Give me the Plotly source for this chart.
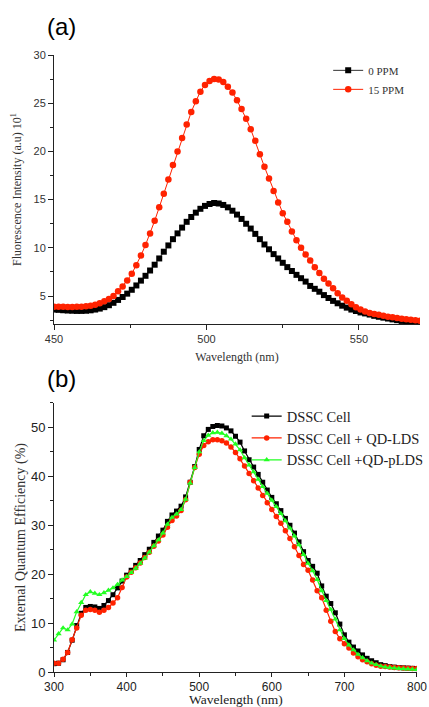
import plotly.graph_objects as go

# ---------------- Panel (a): fluorescence ----------------
wl_a = [450 + 1.5 * k for k in range(81)]
ppm0 = [3.6, 3.57, 3.53, 3.5, 3.48, 3.46, 3.46, 3.48, 3.52, 3.6, 3.7, 3.85, 4.05, 4.3, 4.6, 4.9,
        5.25, 5.65, 6.1, 6.6, 7.1, 7.65, 8.25, 8.9, 9.6, 10.25, 10.9, 11.5, 12.1, 12.7, 13.2,
        13.65, 14.05, 14.35, 14.55, 14.65, 14.6, 14.45, 14.2, 13.85, 13.45, 13.0, 12.5, 12.0,
        11.45, 10.9, 10.35, 9.85, 9.35, 8.9, 8.45, 8.0, 7.6, 7.2, 6.85, 6.5, 6.05, 5.75, 5.45,
        5.1, 4.8, 4.5, 4.25, 4.0, 3.8, 3.6, 3.45, 3.3, 3.2, 3.08, 2.95, 2.85, 2.76, 2.67, 2.58,
        2.5, 2.42, 2.35, 2.28, 2.22, 2.17]
ppm15 = [3.9, 3.9, 3.88, 3.87, 3.87, 3.88, 3.9, 3.95, 4.0, 4.1, 4.25, 4.45, 4.7, 5.0, 5.5, 6.0,
         6.6, 7.3, 8.2, 9.2, 10.3, 11.5, 12.8, 14.2, 15.6, 17.1, 18.6, 20.0, 21.4, 22.8, 24.1,
         25.2, 26.2, 26.9, 27.3, 27.5, 27.45, 27.2, 26.7, 26.1, 25.3, 24.4, 23.4, 22.3, 21.1,
         19.7, 18.4, 17.2, 15.9, 14.7, 13.6, 12.7, 11.7, 10.8, 10.0, 9.3, 8.7, 8.0, 7.4, 6.8,
         6.3, 5.8, 5.3, 4.85, 4.5, 4.15, 3.85, 3.6, 3.4, 3.25, 3.15, 3.05, 2.95, 2.85, 2.8,
         2.72, 2.65, 2.6, 2.55, 2.5, 2.45]

# ---------------- Panel (b): EQE ----------------
wl_b = [300 + 6.25 * k for k in range(81)]
dssc = [1.7, 1.8, 2.5, 4.0, 6.5, 9.5, 12.0, 13.2, 13.4, 13.3, 13.0, 13.6, 14.6, 15.8, 17.2, 18.6,
        19.8, 20.8, 21.8, 22.8, 24.0, 25.1, 26.5, 27.8, 29.0, 30.8, 32.1, 32.9, 33.9, 35.8, 38.8,
        42.0, 45.5, 48.3, 49.6, 50.2, 50.4, 50.3, 49.9, 49.3, 48.2, 47.0, 45.2, 43.4, 41.9, 40.4,
        38.8, 37.2, 35.7, 34.4, 33.0, 31.4, 30.0, 28.4, 26.6, 24.6, 22.8, 21.6, 20.2, 17.6, 15.5,
        14.0, 12.1, 9.8, 7.6, 6.1, 5.1, 4.3, 3.5, 2.8, 2.3, 1.9, 1.5, 1.3, 1.1, 1.0, 0.9, 0.85,
        0.8, 0.75, 0.7]
qd_lds = [1.8, 1.8, 2.6, 4.0, 6.6, 9.0, 11.6, 12.6, 12.8, 12.6, 12.2, 12.6, 13.2, 14.1, 15.2, 17.3,
          19.4, 20.4, 21.3, 22.3, 23.4, 24.5, 25.7, 26.8, 28.0, 29.6, 31.0, 31.9, 33.0, 35.2, 38.8,
          41.8, 44.5, 46.3, 47.1, 47.5, 47.5, 47.3, 46.8, 46.0, 44.9, 43.6, 42.1, 40.6, 39.1, 37.6,
          36.1, 34.6, 33.2, 31.8, 30.4, 28.9, 27.3, 25.6, 23.8, 22.0, 20.8, 18.8, 16.6, 15.2, 12.6,
          10.4, 8.3, 6.8, 5.8, 4.9, 3.9, 3.1, 2.5, 2.1, 1.7, 1.4, 1.2, 1.1, 1.0, 0.9, 0.85, 0.8,
          0.75, 0.7, 0.7]
qd_plds = [6.5, 7.8, 9.0, 8.6, 9.8, 12.3, 14.2, 15.8, 16.4, 16.1, 15.8, 16.2, 16.7, 17.2, 17.9, 18.8,
           19.5, 20.3, 21.2, 22.2, 23.3, 24.5, 25.8, 27.0, 28.4, 30.2, 31.6, 32.3, 33.2, 35.3, 38.6,
           41.8, 45.0, 47.3, 48.4, 48.9, 49.0, 48.8, 48.3, 47.6, 46.6, 45.4, 43.8, 42.3, 40.9, 39.4,
           37.9, 36.5, 35.1, 33.8, 32.4, 30.9, 29.4, 27.8, 26.0, 24.0, 22.2, 20.7, 18.9, 16.6, 14.6,
           12.8, 10.8, 8.6, 6.8, 5.5, 4.5, 3.6, 2.9, 2.3, 1.8, 1.5, 1.2, 1.0, 0.9, 0.8, 0.7, 0.65,
           0.6, 0.55, 0.5]

RED = "#ff2200"
GREEN = "#22ff22"
SERIF = "Liberation Serif"
SANS = "Liberation Sans"

fig = go.Figure()

fig.add_trace(go.Scatter(x=wl_a, y=ppm0, name="0 PPM", mode="lines+markers",
                         line=dict(color="#333333", width=1),
                         marker=dict(symbol="square", size=6, color="black"),
                         xaxis="x", yaxis="y", legend="legend"))
fig.add_trace(go.Scatter(x=wl_a, y=ppm15, name="15 PPM", mode="lines+markers",
                         line=dict(color=RED, width=1),
                         marker=dict(symbol="circle", size=6.5, color=RED),
                         xaxis="x", yaxis="y", legend="legend"))

fig.add_trace(go.Scatter(x=wl_b, y=dssc, name="DSSC Cell", mode="lines+markers",
                         line=dict(color="black", width=1.2),
                         marker=dict(symbol="square", size=5, color="black"),
                         xaxis="x2", yaxis="y2", legend="legend2"))
fig.add_trace(go.Scatter(x=wl_b, y=qd_lds, name="DSSC Cell + QD-LDS", mode="lines+markers",
                         line=dict(color=RED, width=1.2),
                         marker=dict(symbol="circle", size=5.5, color=RED),
                         xaxis="x2", yaxis="y2", legend="legend2"))
fig.add_trace(go.Scatter(x=wl_b, y=qd_plds, name="DSSC Cell +QD-pLDS", mode="lines+markers",
                         line=dict(color=GREEN, width=1.2),
                         marker=dict(symbol="triangle-up", size=5.5, color=GREEN),
                         xaxis="x2", yaxis="y2", legend="legend2"))

axis_common = dict(showline=True, linecolor="#222", linewidth=1, ticks="outside",
                   tickcolor="#222", showgrid=False, zeroline=False,
                   mirror=False, automargin=False)

fig.update_layout(
    width=429, height=707,
    margin=dict(l=0, r=0, t=0, b=0, autoexpand=False),
    paper_bgcolor="white", plot_bgcolor="white",
    xaxis=dict(domain=[0.1259, 0.979], range=[450, 570], anchor="y", ticklen=5,
               tickvals=[450, 500, 550], tickfont=dict(family=SANS, size=11, color="#333"),
               minor=dict(tickvals=[475, 525], ticks="outside", ticklen=3, tickcolor="#222"),
               title=dict(text="Wavelength (nm)", font=dict(family=SERIF, size=12, color="#333"),
                          standoff=8),
               **axis_common),
    yaxis=dict(domain=[0.5417, 0.9222], range=[2.1, 30], anchor="x", ticklen=5,
               tickvals=[5, 10, 15, 20, 25, 30], tickfont=dict(family=SANS, size=11, color="#333"),
               minor=dict(tickvals=[2.5, 7.5, 12.5, 17.5, 22.5, 27.5], ticks="outside", ticklen=3,
                          tickcolor="#222"),
               title=dict(text="Fluorescence Intensity (a.u) 10<sup>1</sup>",
                          font=dict(family=SERIF, size=12, color="#333"), standoff=9),
               **axis_common),
    xaxis2=dict(domain=[0.1259, 0.972], range=[300, 800], anchor="y2", ticklen=4,
                tickvals=[300, 400, 500, 600, 700, 800],
                tickfont=dict(family=SANS, size=12, color="#222"),
                minor=dict(tickvals=[350, 450, 550, 650, 750], ticks="outside", ticklen=3,
                           tickcolor="#222"),
                **axis_common),
    yaxis2=dict(domain=[0.0495, 0.43], range=[0, 55], anchor="x2", ticklen=5,
                tickvals=[0, 10, 20, 30, 40, 50],
                tickfont=dict(family=SANS, size=13, color="#222"),
                minor=dict(tickvals=[5, 15, 25, 35, 45, 55], ticks="outside", ticklen=3,
                           tickcolor="#222"),
                title=dict(text="External Quantum Efficiency (%)",
                           font=dict(family=SERIF, size=14, color="#333"), standoff=2),
                **axis_common),
    legend=dict(x=0.765, y=0.921, xanchor="left", yanchor="top", bgcolor="rgba(0,0,0,0)",
                font=dict(family=SERIF, size=11, color="#333"), itemwidth=30,
                tracegroupgap=0),
    legend2=dict(x=0.575, y=0.434, xanchor="left", yanchor="top", bgcolor="rgba(0,0,0,0)",
                 font=dict(family=SERIF, size=14.5, color="#222"), itemwidth=30,
                 tracegroupgap=0),
    showlegend=True,
    annotations=[
        dict(text="(a)", x=0.105, y=0.985, xref="paper", yref="paper", xanchor="left",
             yanchor="top", showarrow=False, font=dict(family=SANS, size=24, color="black")),
        dict(text="(b)", x=0.105, y=0.487, xref="paper", yref="paper", xanchor="left",
             yanchor="top", showarrow=False, font=dict(family=SANS, size=24, color="black")),
        dict(text="Wavelength (nm)", x=0.549, y=0.0, xref="paper", yref="paper",
             xanchor="center", yanchor="bottom", showarrow=False, yshift=-2,
             font=dict(family=SERIF, size=13.5, color="#222")),
    ],
)

fig.write_html("out.html")
